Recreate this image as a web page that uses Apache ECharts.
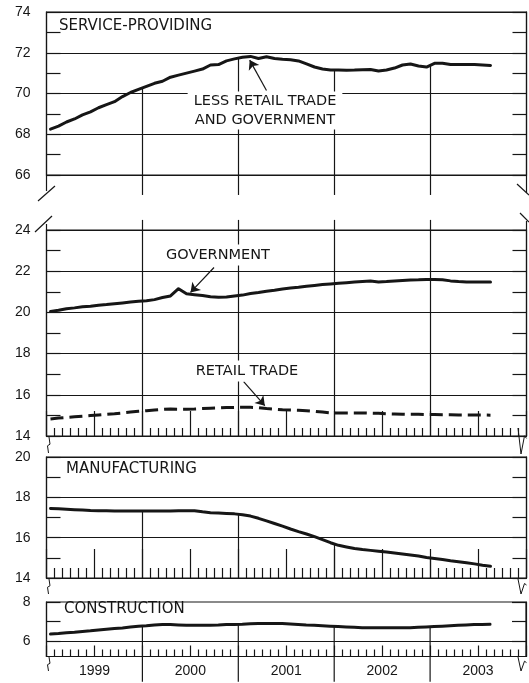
<!DOCTYPE html>
<html><head><meta charset="utf-8">
<script src="https://cdn.jsdelivr.net/npm/echarts@6/dist/echarts.min.js"></script>
<style>html,body{margin:0;padding:0;background:#fff}#c{width:529px;height:683px}</style>
</head><body><div id="c"></div>
<script>
// Monthly data, Jan 1999 .. Aug 2003 (millions)
const years = ['1999', '2000', '2001', '2002', '2003'];
const yearBounds = [12, 24, 36, 48];
const serviceLessRetailGov = [68.25,68.4,68.6,68.75,68.95,69.1,69.3,69.45,69.6,69.85,70.05,70.2,
  70.35,70.5,70.6,70.8,70.9,71.0,71.1,71.2,71.4,71.42,71.6,71.7,
  71.78,71.82,71.72,71.8,71.72,71.68,71.66,71.6,71.45,71.3,71.2,71.15,
  71.15,71.14,71.15,71.17,71.18,71.1,71.15,71.25,71.4,71.45,71.35,71.3,
  71.48,71.48,71.42,71.42,71.42,71.42,71.4,71.38];
const government = [20.05,20.1,20.18,20.22,20.27,20.3,20.35,20.38,20.42,20.46,20.5,20.54,
  20.57,20.62,20.72,20.8,21.15,20.9,20.86,20.82,20.76,20.74,20.75,20.8,
  20.84,20.92,20.97,21.03,21.08,21.14,21.18,21.22,21.27,21.31,21.35,21.38,
  21.41,21.44,21.47,21.5,21.52,21.48,21.5,21.53,21.55,21.57,21.58,21.6,
  21.6,21.58,21.53,21.5,21.48,21.48,21.48,21.47];
const retailTrade = [14.83,14.87,14.9,14.93,14.96,14.99,15.02,15.05,15.08,15.12,15.16,15.2,
  15.23,15.26,15.29,15.31,15.3,15.3,15.31,15.33,15.35,15.36,15.38,15.39,
  15.39,15.39,15.38,15.33,15.3,15.27,15.26,15.25,15.23,15.2,15.16,15.12,
  15.12,15.12,15.12,15.12,15.11,15.1,15.08,15.07,15.06,15.05,15.05,15.04,
  15.04,15.03,15.03,15.02,15.02,15.02,15.02,15.01];
const manufacturing = [17.45,17.43,17.41,17.39,17.37,17.35,17.34,17.33,17.32,17.32,17.32,17.32,
  17.32,17.32,17.32,17.32,17.33,17.34,17.33,17.28,17.24,17.22,17.2,17.18,
  17.14,17.07,16.96,16.83,16.7,16.57,16.43,16.3,16.18,16.05,15.9,15.75,
  15.62,15.54,15.46,15.41,15.37,15.33,15.29,15.24,15.19,15.14,15.09,15.02,
  14.97,14.92,14.86,14.81,14.76,14.7,14.63,14.58];
const construction = [6.35,6.38,6.42,6.45,6.49,6.52,6.56,6.6,6.64,6.67,6.71,6.75,
  6.78,6.82,6.85,6.84,6.82,6.8,6.8,6.81,6.81,6.82,6.84,6.85,
  6.86,6.88,6.9,6.9,6.9,6.89,6.87,6.85,6.82,6.8,6.78,6.76,
  6.74,6.72,6.7,6.68,6.68,6.68,6.68,6.68,6.68,6.68,6.7,6.72,
  6.74,6.76,6.78,6.8,6.82,6.84,6.85,6.86];
// Annotation arrows: [fromX, fromY, toX, toY] in data units
const arrowService = [27.5, 70.15, 25.4, 71.64];
const arrowGov = [20.94, 22.18, 18.0, 20.97];
const arrowRetail = [24.64, 16.64, 27.29, 15.47];

const INK = '#161616';
const NUM_FONT = '"Liberation Sans", Arial, sans-serif';
const TXT_FONT = '"DejaVu Sans", sans-serif';

const pairs = arr => arr.map((v, i) => [i + 0.5, v]);
const atBound = (arr, k) => (arr[k - 1] + arr[k]) / 2;

const chart = echarts.init(document.getElementById('c'), null, {renderer: 'canvas'});

const L = 46.5, R = 2.5;
const grids = [
  {left: L, right: R, top: 12, height: 163},
  {left: L, right: R, top: 230, height: 206},
  {left: L, right: R, top: 457, height: 121},
  {left: L, right: R, top: 602, height: 54.5}
].map(g => Object.assign(g, {show: true, borderColor: INK, borderWidth: 1.2, backgroundColor: 'transparent'}));

function xAxisCfg(gi, tickLen, minorLen, showLabel) {
  return {
    type: 'value', gridIndex: gi, min: 0, max: 60, interval: 6, position: 'bottom',
    show: gi !== 0,
    axisLine: {show: true, onZero: false, lineStyle: {color: INK, width: 1.2}},
    axisTick: {show: true, inside: true, length: tickLen, lineStyle: {color: INK, width: 1.2}},
    minorTick: {show: true, splitNumber: 6, length: minorLen, lineStyle: {color: INK, width: 1.2}},
    splitLine: {show: false},
    axisLabel: showLabel ? {
      show: true, margin: 8, color: INK, fontFamily: NUM_FONT, fontSize: 14,
      formatter: v => (v % 12 === 6 ? years[(v - 6) / 12] : '')
    } : {show: false}
  };
}
function yAxisCfg(gi, min, max, interval, side) {
  const left = side === 'left';
  return {
    type: 'value', gridIndex: gi, min: min, max: max, interval: interval, position: side,
    axisLine: {show: true, lineStyle: {color: INK, width: 1.2}},
    axisTick: {show: true, inside: true, length: 14, lineStyle: {color: INK, width: 1.2}},
    minorTick: {show: interval === 2, splitNumber: 2, length: 14, lineStyle: {color: INK, width: 1.2}},
    splitLine: {show: left && interval === 2, lineStyle: {color: INK, width: 1.2}},
    axisLabel: left ? {show: true, margin: 16, color: INK, fontFamily: NUM_FONT, fontSize: 14} : {show: false}
  };
}

const yAxes = [
  yAxisCfg(0, 66, 74, 2, 'left'),
  yAxisCfg(1, 14, 24, 2, 'left'),
  yAxisCfg(2, 14, 20, 2, 'left'),
  Object.assign(yAxisCfg(3, 5.2, 8, null, 'left'), {
    axisLabel: {show: true, margin: 16, color: INK, fontFamily: NUM_FONT, fontSize: 14, customValues: [6, 8]},
    axisTick: {show: true, inside: true, length: 14, customValues: [6, 7, 8], lineStyle: {color: INK, width: 1.2}},
    splitLine: {show: false}, minorTick: {show: false}
  }),
  yAxisCfg(0, 66, 74, 2, 'right'),
  yAxisCfg(1, 14, 24, 2, 'right'),
  yAxisCfg(2, 14, 20, 2, 'right'),
  Object.assign(yAxisCfg(3, 5.2, 8, null, 'right'), {
    axisTick: {show: true, inside: true, length: 14, customValues: [6, 7, 8], lineStyle: {color: INK, width: 1.2}},
    splitLine: {show: false}, minorTick: {show: false}
  })
];

function dropRender(params, api) {
  const x = api.value(0);
  const a = api.coord([x, api.value(1)]);
  const b = api.coord([x, api.value(2)]);
  return {type: 'line', shape: {x1: a[0], y1: a[1], x2: b[0], y2: b[1]}, style: {stroke: INK, lineWidth: 1.2}};
}
function dropSeries(gi, data) {
  return {type: 'custom', xAxisIndex: gi, yAxisIndex: gi, renderItem: dropRender, data: data,
    clip: false, silent: true, z: 1, encode: {x: 0, y: 1}};
}
function arrowMark(a) {
  return {
    silent: true, symbol: ['none', 'arrow'], symbolSize: 9, animation: false,
    label: {show: false}, lineStyle: {color: INK, width: 1.2, type: 'solid'},
    data: [[{coord: [a[0], a[1]]}, {coord: [a[2], a[3]]}]]
  };
}
function lineSeries(gi, arr, extra) {
  return Object.assign({
    type: 'line', xAxisIndex: gi, yAxisIndex: gi, data: pairs(arr), symbol: 'none', z: 3,
    lineStyle: {color: INK, width: 3, cap: 'round', join: 'round'}, silent: true
  }, extra || {});
}

const series = [
  lineSeries(0, serviceLessRetailGov, {markLine: arrowMark(arrowService)}),
  lineSeries(1, government, {markLine: arrowMark(arrowGov)}),
  lineSeries(1, retailTrade, {lineStyle: {color: INK, width: 3, type: [13, 6]}, markLine: arrowMark(arrowRetail)}),
  lineSeries(2, manufacturing),
  lineSeries(3, construction, {markLine: {silent: true, symbol: 'none', label: {show: false}, animation: false,
    lineStyle: {color: INK, width: 1.2, type: 'solid'}, data: [{yAxis: 6}]}}),
  dropSeries(0, yearBounds.map(k => [k, atBound(serviceLessRetailGov, k), 65.02])),
  dropSeries(1, yearBounds.map(k => [k, 24.49, 14])),
  dropSeries(2, yearBounds.map(k => [k, atBound(manufacturing, k), 14])),
  dropSeries(3, yearBounds.map(k => [k, atBound(construction, k), 3.9]))
];

function ln(x1, y1, x2, y2) {
  return {type: 'line', z: 50, silent: true, shape: {x1, y1, x2, y2}, style: {stroke: INK, lineWidth: 1.2}};
}
function pl(points) {
  return {type: 'polyline', z: 50, silent: true, shape: {points}, style: {stroke: INK, lineWidth: 1, fill: null}};
}
function txt(x, y, text, size, align, bg) {
  const s = {text, x: 0, y: 0, font: size + 'px ' + TXT_FONT, fill: INK, align: align, verticalAlign: 'middle', lineHeight: 19};
  if (bg) { s.backgroundColor = '#fff'; s.padding = bg; }
  return {type: 'text', x, y, z: 100, silent: true, style: s};
}
const zigL = (a, b) => pl([[49, a], [50, a + (b - a) * 0.45], [47.5, a + (b - a) * 0.55], [48.5, b]]);
const zigR = (a, b) => pl([[518, a], [521, b], [524.5, a + (b - a) * 0.3], [526.5, a + (b - a) * 0.4]]);

const graphics = [
  txt(59, 26.5, 'SERVICE-PROVIDING', 15, 'left'),
  txt(265, 110.5, 'LESS RETAIL TRADE\nAND GOVERNMENT', 14.5, 'center', [0, 6]),
  txt(218, 255, 'GOVERNMENT', 14.5, 'center', [1, 3]),
  txt(247, 371, 'RETAIL TRADE', 14.5, 'center', [1, 3]),
  txt(66, 469, 'MANUFACTURING', 15, 'left'),
  txt(64, 609.5, 'CONSTRUCTION', 15, 'left'),
  // scale breaks
  ln(L, 175, L, 191), ln(38, 201, 55, 186),
  ln(526.5, 175, 526.5, 193), ln(517, 184, 529, 195),
  ln(L, 224, L, 230), ln(35, 232, 52, 216),
  ln(526.5, 221, 526.5, 230), ln(520, 213, 529, 222),
  zigL(437, 453), zigR(428, 454),
  zigL(579, 594), zigR(579, 594),
  zigL(657, 671), zigR(657, 671)
];

chart.setOption({
  animation: false,
  backgroundColor: '#fff',
  grid: grids,
  xAxis: [xAxisCfg(0, 0, 0, false), xAxisCfg(1, 25, 8, false), xAxisCfg(2, 29, 10, false), xAxisCfg(3, 11, 7, true)],
  yAxis: yAxes,
  series: series,
  graphic: graphics
});
</script></body></html>
